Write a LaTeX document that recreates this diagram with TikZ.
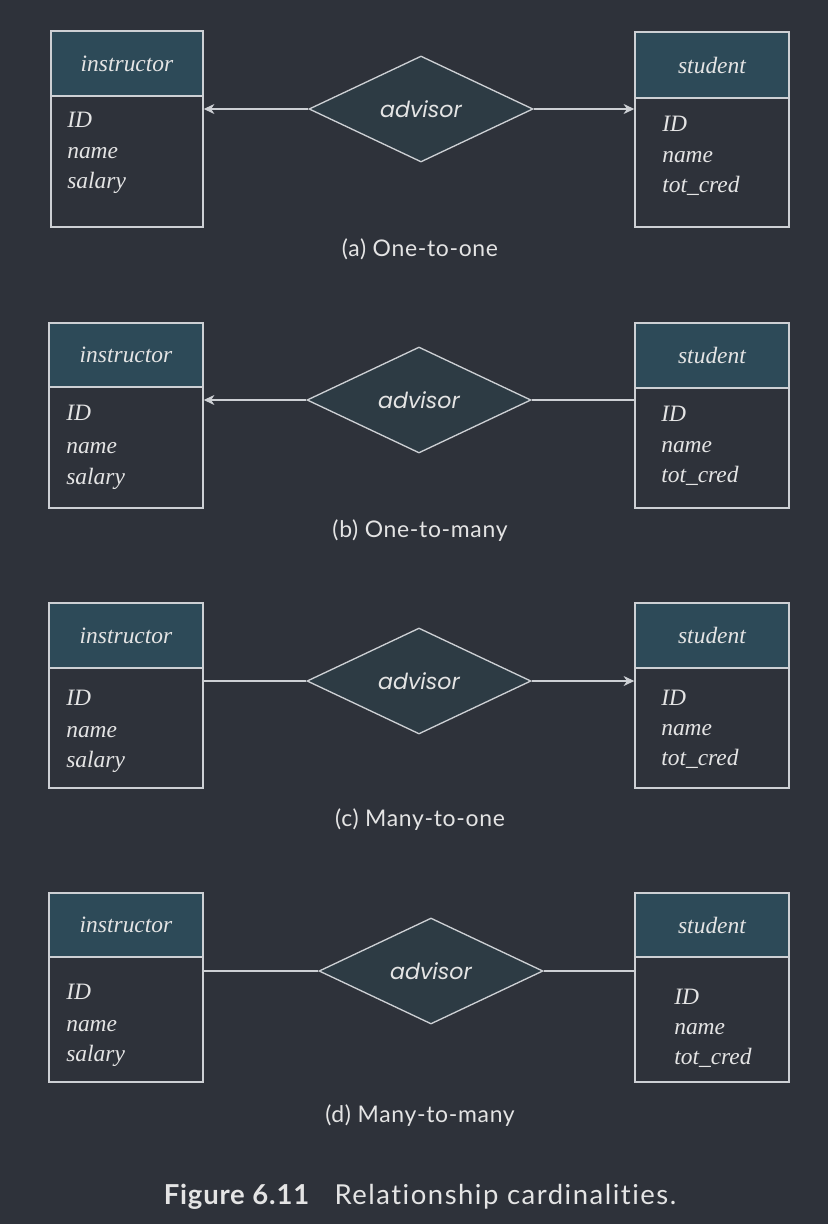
\documentclass[tikz,border=0pt]{standalone}
\usepackage{fontspec}
\setmainfont{Liberation Serif}
\newfontfamily\advfont{Poppins}
\newfontfamily\capfont{Lato}[LetterSpace=3,RawFeature=-liga]
\newfontfamily\capfontwide{Lato}[LetterSpace=5.5,RawFeature=-liga]
\usetikzlibrary{shapes.geometric,fit,arrows.meta}
\definecolor{bg}{RGB}{46,50,58}
\definecolor{hdr}{RGB}{45,74,88}
\definecolor{dia}{RGB}{45,59,68}
\definecolor{ln}{RGB}{205,208,212}
\definecolor{txt}{RGB}{228,228,228}
\tikzset{
  ebox/.style={fit={#1}, inner sep=0pt, draw=ln, line width=1.1pt},
  ehead/.style={fit={#1}, inner sep=0pt, draw=ln, fill=hdr, line width=1.1pt},
  etitle/.style={text=txt, font=\fontsize{17.6}{20}\selectfont\itshape, inner sep=0pt},
  attr/.style={text=txt, font=\fontsize{17.6}{20}\selectfont\itshape, anchor=base west, inner sep=0pt},
  rel/.style={diamond, draw=ln, fill=dia, line width=1pt, minimum width=168pt, minimum height=79.5pt, inner sep=0pt, aspect=2.1,
    text=txt, font=\advfont\fontsize{16.6}{20}\selectfont\itshape},
  conn/.style={draw=ln, line width=0.9pt},
  arr/.style={conn, -{Stealth[length=8pt,width=7.5pt,inset=2.5pt]}},
  subcap/.style={text=txt, font=\capfont\fontsize{17.2}{20}\selectfont, inner sep=0pt},
  figcap/.style={text=txt, inner sep=0pt}
}
\begin{document}
\begin{tikzpicture}[x=0.75pt,y=-0.75pt]
\fill[bg] (0,0) rectangle (828,1224);
\useasboundingbox (0,0) rectangle (828,1224);

% ---------- (a) ----------
\node[ebox={(51,31) (203,227)}] (i1) {};
\node[ehead={(51,31) (203,96)}] (i1h) {};
\node[etitle] (i1t) at (i1h.center) {instructor};
\node[attr] (i1a) at (67,127) {ID};
\node[attr] (i1b) at (67,158) {name};
\node[attr] (i1c) at (67,188) {salary};
\node[ebox={(635,32) (789,227)}] (s1) {};
\node[ehead={(635,32) (789,98)}] (s1h) {};
\node[etitle] (s1t) at (s1h.center) {student};
\node[attr] (s1a) at (662,131) {ID};
\node[attr] (s1b) at (662,162) {name};
\node[attr] (s1c) at (662,192) {tot\_cred};
\node[rel] (d1) at (421,109) {advisor};
\draw[arr] (d1.west) -- (d1.west -| i1.east);
\draw[arr] (d1.east) -- (d1.east -| s1.west);
\node[subcap] (c1) at (420,249) {(a) One-to-one};

% ---------- (b) ----------
\node[ebox={(49,323) (203,508)}] (i2) {};
\node[ehead={(49,323) (203,387)}] (i2h) {};
\node[etitle] (i2t) at (i2h.center) {instructor};
\node[attr] (i2a) at (66,420) {ID};
\node[attr] (i2b) at (66,453) {name};
\node[attr] (i2c) at (66,484) {salary};
\node[ebox={(635,323) (789,508)}] (s2) {};
\node[ehead={(635,323) (789,388)}] (s2h) {};
\node[etitle] (s2t) at (s2h.center) {student};
\node[attr] (s2a) at (661,421) {ID};
\node[attr] (s2b) at (661,452) {name};
\node[attr] (s2c) at (661,482) {tot\_cred};
\node[rel] (d2) at (419,400) {advisor};
\draw[arr] (d2.west) -- (d2.west -| i2.east);
\draw[conn] (d2.east) -- (d2.east -| s2.west);
\node[subcap] (c2) at (420,531) {(b) One-to-many};

% ---------- (c) ----------
\node[ebox={(49,603) (203,788)}] (i3) {};
\node[ehead={(49,603) (203,668)}] (i3h) {};
\node[etitle] (i3t) at (i3h.center) {instructor};
\node[attr] (i3a) at (66,705) {ID};
\node[attr] (i3b) at (66,737) {name};
\node[attr] (i3c) at (66,767) {salary};
\node[ebox={(635,603) (789,788)}] (s3) {};
\node[ehead={(635,603) (789,668)}] (s3h) {};
\node[etitle] (s3t) at (s3h.center) {student};
\node[attr] (s3a) at (661,705) {ID};
\node[attr] (s3b) at (661,735) {name};
\node[attr] (s3c) at (661,765) {tot\_cred};
\node[rel] (d3) at (419,681) {advisor};
\draw[conn] (d3.west) -- (d3.west -| i3.east);
\draw[arr] (d3.east) -- (d3.east -| s3.west);
\node[subcap] (c3) at (420,820) {(c) Many-to-one};

% ---------- (d) ----------
\node[ebox={(49,893) (203,1082)}] (i4) {};
\node[ehead={(49,893) (203,957)}] (i4h) {};
\node[etitle] (i4t) at (i4h.center) {instructor};
\node[attr] (i4a) at (66,999) {ID};
\node[attr] (i4b) at (66,1031) {name};
\node[attr] (i4c) at (66,1061) {salary};
\node[ebox={(635,893) (789,1082)}] (s4) {};
\node[ehead={(635,893) (789,957)}] (s4h) {};
\node[etitle] (s4t) at (s4h.center) {student};
\node[attr] (s4a) at (674,1004) {ID};
\node[attr] (s4b) at (674,1034) {name};
\node[attr] (s4c) at (674,1064) {tot\_cred};
\node[rel] (d4) at (431,971) {advisor};
\draw[conn] (d4.west) -- (d4.west -| i4.east);
\draw[conn] (d4.east) -- (d4.east -| s4.west);
\node[subcap] (c4) at (420,1116) {(d) Many-to-many};

% ---------- figure caption ----------
\node[figcap] (fc) at (420,1197) {{\capfont\fontsize{20.6}{24}\selectfont\bfseries Figure 6.11}\hspace{19pt}{\capfontwide\fontsize{20.6}{24}\selectfont Relationship cardinalities.}};
\end{tikzpicture}
\end{document}
